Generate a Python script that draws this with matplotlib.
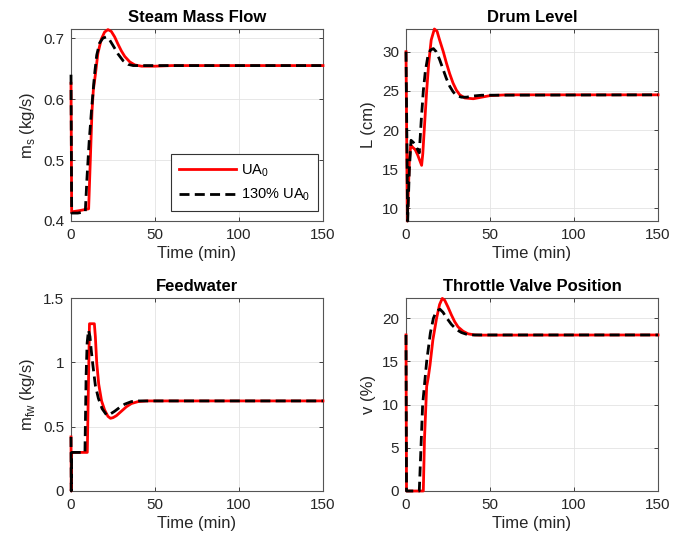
import numpy as np
import matplotlib
matplotlib.use("Agg")
import matplotlib.pyplot as plt

plt.rcParams['font.family'] = ['Liberation Sans', 'DejaVu Sans']
plt.rcParams['mathtext.fontset'] = 'custom'
plt.rcParams['mathtext.rm'] = 'Liberation Sans'

# ---- Steam mass flow (kg/s) ----
steam_t_ua = [0, 0.4, 5, 10.5, 11.5, 12.5, 13.3, 14.5, 16, 18, 20, 22, 24, 26, 28, 30, 32, 35, 38, 42, 50, 60, 150]
steam_v_ua = [0.626, 0.415, 0.417, 0.42, 0.50, 0.58, 0.615, 0.64, 0.675, 0.698, 0.710, 0.714, 0.711, 0.702,
              0.690, 0.679, 0.670, 0.661, 0.656, 0.654, 0.654, 0.655, 0.655]
steam_t_130 = [0, 0.4, 4, 8.5, 9.5, 10.8, 12.3, 14, 15.3, 17, 19, 21, 23, 25, 28, 31, 34, 37, 150]
steam_v_130 = [0.64, 0.413, 0.413, 0.415, 0.47, 0.53, 0.585, 0.64, 0.672, 0.692, 0.700, 0.702, 0.697, 0.688,
               0.674, 0.663, 0.657, 0.655, 0.655]

# ---- Drum level (cm) ----
drum_t_ua = [0, 0.8, 2.0, 2.8, 4, 5.5, 7, 9.3, 10, 11, 12.3, 13.5, 15, 16.9, 18.5, 20, 22.2, 24, 26, 28, 30,
             32, 35, 40, 45, 50, 60, 150]
drum_v_ua = [30, 8.4, 16, 18.1, 17.8, 17.5, 16.8, 15.5, 17, 20.5, 25, 28.5, 31.5, 32.9, 32.6, 31.5, 30, 28.6,
             27.2, 26, 25.1, 24.5, 24.1, 24.0, 24.2, 24.4, 24.5, 24.5]
drum_t_130 = [0, 1.0, 2.0, 3, 4.5, 6, 7.9, 9, 10.3, 11.5, 13, 14.5, 16.3, 18, 20, 22, 24, 26, 28, 30, 33, 36,
              40, 45, 150]
drum_v_130 = [30, 8.4, 15, 18.7, 18.4, 17.9, 17.1, 21, 25, 27.5, 29.4, 30.2, 30.4, 30.0, 29, 27.8, 26.6, 25.6,
              24.9, 24.4, 24.2, 24.2, 24.35, 24.45, 24.5]

# ---- Feedwater (kg/s) ----
feed_t_ua = [0, 0.15, 0.4, 9.7, 11.0, 13.9, 14.5, 15.3, 16.5, 18.2, 20, 22, 23.5, 25, 27, 30, 33, 36, 40, 45, 150]
feed_v_ua = [0.42, 0.0, 0.3, 0.3, 1.30, 1.30, 1.2, 1.0, 0.83, 0.70, 0.63, 0.58, 0.565, 0.57, 0.585, 0.62,
             0.655, 0.68, 0.695, 0.70, 0.70]
feed_t_130 = [0, 0.15, 0.4, 8.3, 9.0, 9.6, 10.4, 11.3, 12, 13, 14.5, 16.3, 18.5, 21.2, 23, 26, 29, 32, 36, 40, 150]
feed_v_130 = [0.42, 0.0, 0.3, 0.3, 0.9, 1.15, 1.25, 1.2, 1.1, 0.98, 0.82, 0.72, 0.64, 0.59, 0.595, 0.62, 0.65,
              0.675, 0.695, 0.70, 0.70]

# ---- Throttle valve position (%) ----
valve_t_ua = [0, 0.3, 10.3, 11, 12.3, 13.3, 14.3, 16, 18.2, 20, 21.6, 23, 25, 27, 29, 31, 34, 37, 41, 44, 150]
valve_v_ua = [18.07, 0, 0, 6, 12.1, 13.2, 14.6, 17.5, 20, 21.6, 22.3, 22.1, 21.3, 20.4, 19.6, 19.0, 18.5,
              18.2, 18.07, 18.05, 18.07]
valve_t_130 = [0, 0.3, 7.9, 9.9, 12.3, 14.5, 16.3, 18, 20.2, 22, 24, 27, 30, 33, 36, 38, 150]
valve_v_130 = [18.07, 0, 0, 10, 15, 18.3, 20, 20.8, 21.05, 20.7, 20.1, 19.3, 18.7, 18.35, 18.15, 18.07, 18.07]

x_ticks = [0, 50, 100, 150]

panels = [
    dict(title='Steam Mass Flow', ylabel='m$_\\mathregular{s}$ (kg/s)',
         ua=(steam_t_ua, steam_v_ua), hi=(steam_t_130, steam_v_130),
         ylim=(0.4, 0.715), yticks=[0.4, 0.5, 0.6, 0.7], yfmt=['0.4', '0.5', '0.6', '0.7'],
         pos=[71, 29, 323, 221], legend=True),
    dict(title='Drum Level', ylabel='L (cm)',
         ua=(drum_t_ua, drum_v_ua), hi=(drum_t_130, drum_v_130),
         ylim=(8.4, 32.9), yticks=[10, 15, 20, 25, 30], yfmt=['10', '15', '20', '25', '30'],
         pos=[406, 29, 658, 221], legend=False),
    dict(title='Feedwater', ylabel='m$_\\mathregular{fw}$ (kg/s)',
         ua=(feed_t_ua, feed_v_ua), hi=(feed_t_130, feed_v_130),
         ylim=(0, 1.5), yticks=[0, 0.5, 1, 1.5], yfmt=['0', '0.5', '1', '1.5'],
         pos=[71, 298, 323, 491], legend=False),
    dict(title='Throttle Valve Position', ylabel='v (%)',
         ua=(valve_t_ua, valve_v_ua), hi=(valve_t_130, valve_v_130),
         ylim=(0, 22.35), yticks=[0, 5, 10, 15, 20], yfmt=['0', '5', '10', '15', '20'],
         pos=[406, 298, 658, 491], legend=False),
]

W, H = 673, 544
fig = plt.figure(figsize=(W / 100, H / 100), dpi=100)
txt = '#262626'

for p in panels:
    x0, y0, x1, y1 = p['pos']
    ax = fig.add_axes([x0 / W, 1 - y1 / H, (x1 - x0) / W, (y1 - y0) / H])
    ax.plot(p['ua'][0], p['ua'][1], color='#ff0000', lw=2.0, label='UA$_\\mathregular{0}$',
            clip_on=False, zorder=3)
    ax.plot(p['hi'][0], p['hi'][1], color='black', lw=2.0, dashes=(3.6, 1.9),
            label='130% UA$_\\mathregular{0}$', clip_on=False, zorder=4)
    ax.set_xlim(0, 150)
    ax.set_ylim(*p['ylim'])
    ax.set_xticks(x_ticks)
    ax.set_xticklabels([str(v) for v in x_ticks])
    ax.set_yticks(p['yticks'])
    ax.set_yticklabels(p['yfmt'])
    ax.grid(True, color='#e3e3e3', lw=0.6)
    ax.set_axisbelow(True)
    ax.tick_params(direction='in', length=3, width=0.6, top=True, right=True,
                   labelsize=11, colors=txt, pad=5)
    for s in ax.spines.values():
        s.set_color('#555555')
        s.set_linewidth(0.8)
        s.set_zorder(2)
    ax.set_title(p['title'], fontsize=12, fontweight='bold', color='black', pad=5)
    ax.set_xlabel('Time (min)', fontsize=12, color=txt, labelpad=3)
    ax.set_ylabel(p['ylabel'], fontsize=12, color=txt, labelpad=4)
    if p['legend']:
        leg = ax.legend(loc='lower right', bbox_to_anchor=(0.98, 0.05), fontsize=10.5,
                        handlelength=3.9, fancybox=False, framealpha=1, borderaxespad=0,
                        edgecolor='#333333', borderpad=0.55, labelspacing=0.55, handletextpad=0.3)
        leg.get_frame().set_linewidth(0.8)
        leg.set_zorder(10)

fig.savefig('out.png', dpi=100)
